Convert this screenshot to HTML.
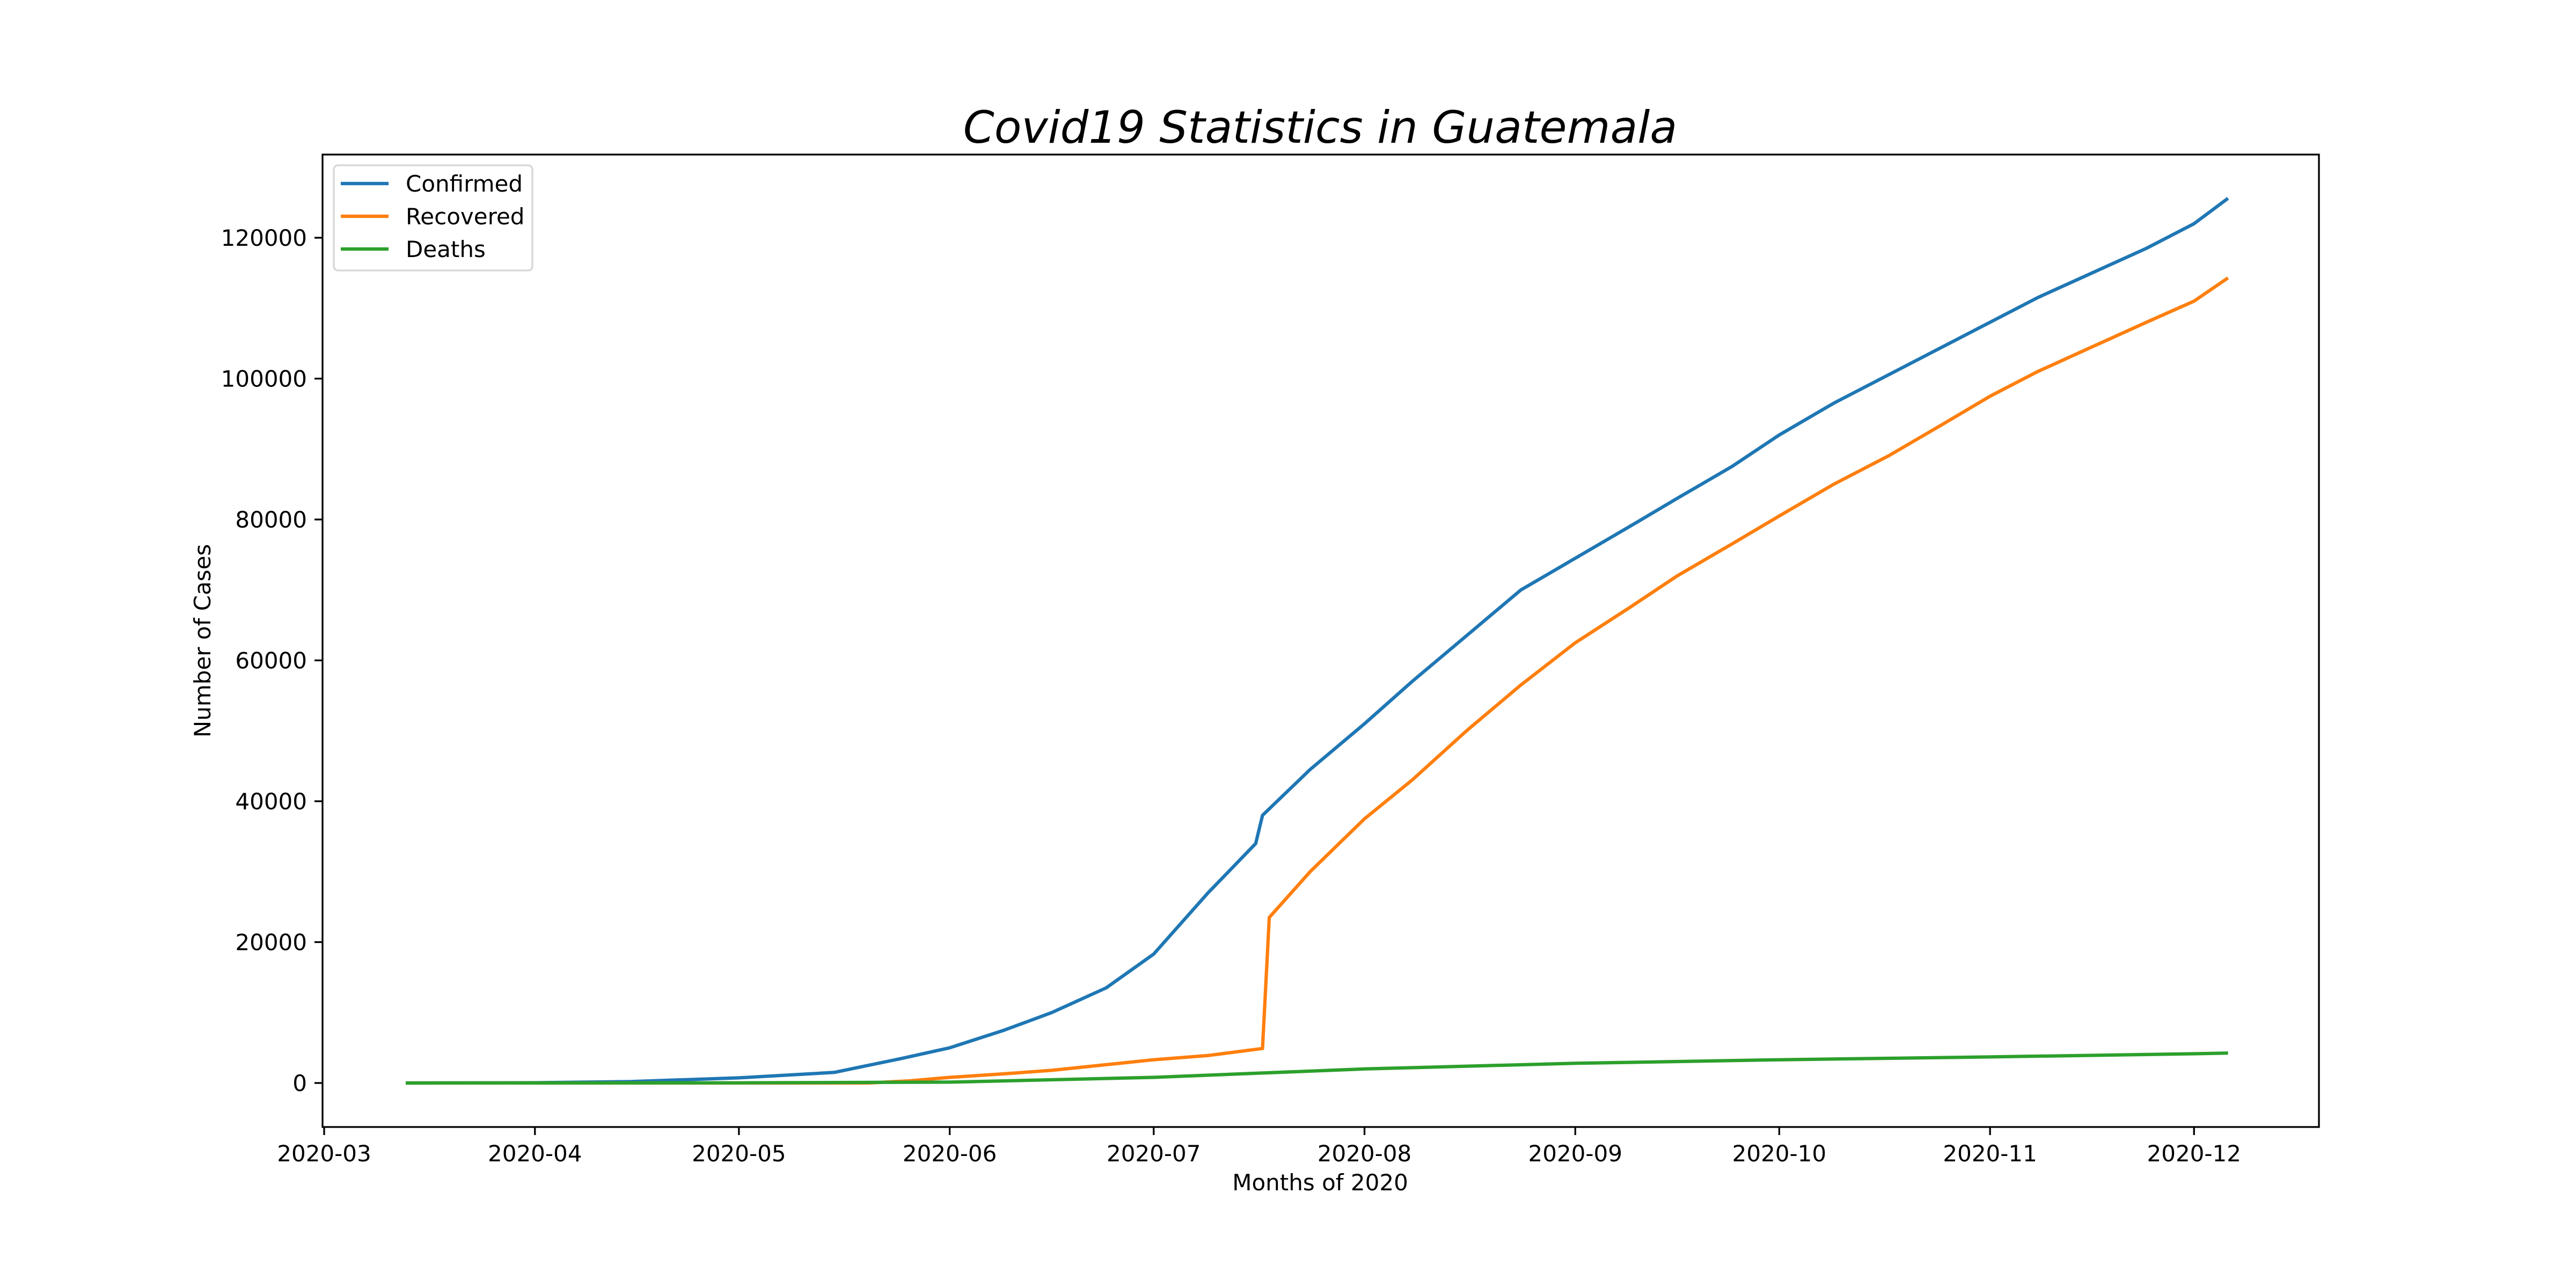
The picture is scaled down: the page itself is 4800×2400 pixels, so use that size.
<!DOCTYPE html>
<html><head><meta charset="utf-8"><style>
html,body{margin:0;padding:0;background:#fff;}
svg{display:block;font-family:"DejaVu Sans","Liberation Sans",sans-serif;}
</style></head><body>
<svg id="chart" width="4800" height="2400" viewBox="0 0 4800 2400" xmlns="http://www.w3.org/2000/svg">
<rect width="4800" height="2400" fill="#fff"/>
<text x="2460" y="266" font-size="83" font-style="italic" text-anchor="middle">Covid19 Statistics in Guatemala</text>
<g id="plot"></g>
<rect x="601" y="288" width="3720" height="1812" fill="none" stroke="#000" stroke-width="3.3"/>
<text x="2460" y="2218" font-size="42" text-anchor="middle">Months of 2020</text>
<text transform="translate(392,1194) rotate(-90)" font-size="42" text-anchor="middle">Number of Cases</text>
<g id="ticks"></g>
<g>
<rect x="622" y="308" width="370" height="196" rx="8" fill="#fff" fill-opacity="0.8" stroke="#d6d6d6" stroke-width="3.3"/>
<line x1="635" y1="342" x2="724" y2="342" stroke="#1f77b4" stroke-width="6.25"/>
<text x="756" y="357" font-size="42">Confirmed</text>
<line x1="635" y1="403" x2="724" y2="403" stroke="#ff7f0e" stroke-width="6.25"/>
<text x="756" y="418" font-size="42">Recovered</text>
<line x1="635" y1="464" x2="724" y2="464" stroke="#2ca02c" stroke-width="6.25"/>
<text x="756" y="479" font-size="42">Deaths</text>
</g>
</svg>
<script>
// day offsets from 2020-03-01
const confDays = [12,31,45,61,75,85,92,100,107,115,122,130,137,138,145,153,160,168,176,184,192,199,207,214,222,230,238,245,252,260,268,275,280];
const confVals = [0,40,200,730,1500,3500,5000,7500,10000,13500,18300,27000,34000,38000,44500,51000,57000,63500,70000,74500,79000,83000,87500,92000,96500,100500,104500,108000,111500,115000,118500,122000,125600];
const recDays = [12,80,86,92,100,107,115,122,130,138,139,145,153,160,168,176,184,192,199,207,214,222,230,238,245,252,260,268,275,280];
const recVals = [0,0,300,800,1300,1800,2600,3300,3900,4900,23500,30000,37500,43000,50000,56500,62500,67500,72000,76500,80500,85000,89000,93500,97500,101000,104500,108000,111000,114300];
const deathDays = [12,61,92,122,153,184,214,245,275,280];
const deathVals = [0,20,120,800,2000,2800,3300,3700,4150,4250];
const monthDays = [0,31,61,92,122,153,184,214,245,275];
const monthLabels = ["2020-03","2020-04","2020-05","2020-06","2020-07","2020-08","2020-09","2020-10","2020-11","2020-12"];
const yTicks = [0,20000,40000,60000,80000,100000,120000];

const NS="http://www.w3.org/2000/svg";
const X = d => 604 + d*12.67;
const Y = v => 2018 - v*0.013125;
const plot=document.getElementById('plot');
function line(days, vals, color, name){
  const p=document.createElementNS(NS,'polyline');
  p.setAttribute('points', days.map((d,i)=>X(d).toFixed(1)+','+Y(vals[i]).toFixed(1)).join(' '));
  p.setAttribute('fill','none');p.setAttribute('stroke',color);p.setAttribute('stroke-width','6.25');
  p.setAttribute('stroke-linejoin','round');
  
  
  plot.appendChild(p);
}
line(confDays,confVals,'#1f77b4','confirmed-line');
line(recDays,recVals,'#ff7f0e','recovered-line');
line(deathDays,deathVals,'#2ca02c','deaths-line');

const tk=document.getElementById('ticks');
monthDays.forEach((d,i)=>{
  const l=document.createElementNS(NS,'line');
  l.setAttribute('x1',X(d));l.setAttribute('x2',X(d));l.setAttribute('y1',2100);l.setAttribute('y2',2115);
  l.setAttribute('stroke','#000');l.setAttribute('stroke-width','3.3');
  
  
  tk.appendChild(l);
  const t=document.createElementNS(NS,'text');
  t.setAttribute('x',X(d));t.setAttribute('y',2164);t.setAttribute('font-size','42');t.setAttribute('text-anchor','middle');
  t.textContent=monthLabels[i];
  
  
  tk.appendChild(t);
});
yTicks.forEach(v=>{
  const l=document.createElementNS(NS,'line');
  l.setAttribute('x1',586);l.setAttribute('x2',601);l.setAttribute('y1',Y(v));l.setAttribute('y2',Y(v));
  l.setAttribute('stroke','#000');l.setAttribute('stroke-width','3.3');
  
  
  tk.appendChild(l);
  const t=document.createElementNS(NS,'text');
  t.setAttribute('x',572);t.setAttribute('y',Y(v)+15);t.setAttribute('font-size','42');t.setAttribute('text-anchor','end');
  t.textContent=String(v);
  
  
  tk.appendChild(t);
});
</script>
</body></html>
